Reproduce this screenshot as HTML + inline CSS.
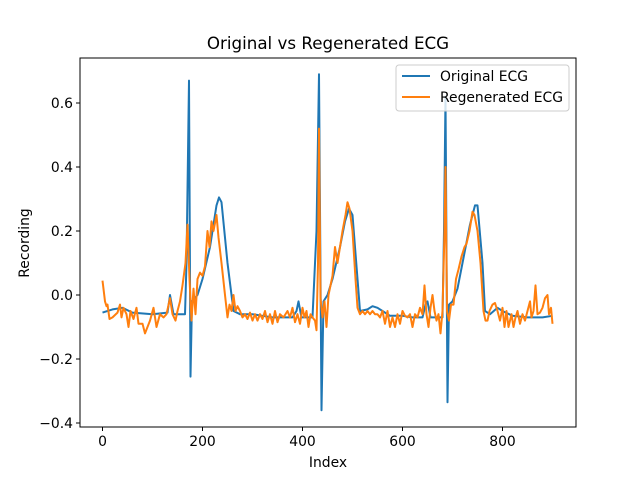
<!DOCTYPE html>
<html><head><meta charset="utf-8"><style>
body{margin:0;background:#fff;}
svg{display:block;font-family:"DejaVu Sans","Liberation Sans",sans-serif;}
</style></head><body>
<svg id="chart" width="640" height="480">
<rect width="640" height="480" fill="#fff"/>
<text x="328" y="49" font-size="16.7" text-anchor="middle">Original vs Regenerated ECG</text>
<g id="plot"></g>
<rect x="80" y="58" width="496" height="369" fill="none" stroke="#000" stroke-width="1"/>
<g id="ticks" font-size="13.9"></g>
<text x="328" y="467" font-size="13.9" text-anchor="middle">Index</text>
<text transform="translate(29,243) rotate(-90)" font-size="13.9" text-anchor="middle">Recording</text>
<g>
<rect x="396" y="65" width="173" height="46" rx="3" fill="#fff" fill-opacity="0.8" stroke="#ccc"/>
<line x1="402" y1="76" x2="430" y2="76" stroke="#1f77b4" stroke-width="2"/>
<text x="440" y="81" font-size="13.9">Original ECG</text>
<line x1="402" y1="97" x2="430" y2="97" stroke="#ff7f0e" stroke-width="2"/>
<text x="440" y="102" font-size="13.9">Regenerated ECG</text>
</g>
</svg>
<script>
const origIdx=[0,20,40,60,100,130,135,142,165,168,173,176,179,190,200,215,228,233,238,250,262,275,300,320,340,360,380,388,392,398,420,428,433,438,442,450,460,475,485,493,500,510,515,530,540,550,560,575,600,620,640,646,650,656,680,683,686,690,693,700,710,720,735,745,750,760,765,775,790,800,820,850,880,900];
const origVal=[-0.055,-0.045,-0.04,-0.055,-0.06,-0.055,0.0,-0.06,-0.06,0.1,0.67,-0.255,-0.02,0.0,0.05,0.15,0.28,0.305,0.29,0.1,-0.05,-0.06,-0.06,-0.065,-0.07,-0.07,-0.07,-0.05,-0.02,-0.07,-0.07,0.2,0.69,-0.36,-0.02,0.0,0.05,0.15,0.23,0.27,0.25,0.05,-0.05,-0.045,-0.035,-0.04,-0.05,-0.065,-0.065,-0.07,-0.07,-0.03,-0.02,-0.07,-0.07,0.2,0.62,-0.335,-0.03,-0.02,0.02,0.1,0.22,0.28,0.28,0.1,-0.05,-0.06,-0.04,-0.05,-0.065,-0.07,-0.07,-0.065];
const regIdx=[0,5,8,10,14,20,30,35,38,42,48,52,56,62,68,72,80,85,90,95,102,108,115,122,128,135,140,146,150,155,160,166,170,174,178,182,186,190,195,200,205,210,214,218,222,228,232,238,245,250,254,258,262,266,270,275,280,285,290,295,300,305,310,315,320,325,330,335,340,345,350,355,362,370,375,380,385,390,395,400,404,408,412,416,420,425,428,431,433,436,440,444,448,452,456,460,465,470,475,480,486,490,494,500,506,510,515,520,525,530,535,540,545,550,555,560,565,570,575,580,585,590,595,600,605,610,615,620,625,630,635,640,644,648,652,656,660,664,668,672,676,680,684,686,689,693,697,702,707,712,718,724,728,734,740,744,750,756,762,766,770,774,780,785,790,795,800,804,808,812,818,822,826,830,835,840,845,850,855,858,862,866,870,875,880,885,890,893,897,900];
const regVal=[0.045,-0.02,-0.035,-0.03,-0.075,-0.07,-0.055,-0.03,-0.07,-0.04,-0.06,-0.1,-0.05,-0.075,-0.04,-0.09,-0.09,-0.12,-0.1,-0.08,-0.04,-0.1,-0.06,-0.07,-0.06,-0.01,-0.06,-0.08,-0.05,-0.02,0.03,0.1,0.22,0.05,-0.08,0.02,-0.06,0.05,0.07,0.06,0.09,0.2,0.15,0.23,0.2,0.25,0.18,0.1,0.0,-0.07,-0.03,-0.05,0.0,-0.05,-0.035,-0.05,-0.07,-0.06,-0.075,-0.055,-0.08,-0.06,-0.08,-0.06,-0.075,-0.05,-0.085,-0.06,-0.09,-0.05,-0.085,-0.06,-0.07,-0.05,-0.07,-0.04,-0.085,-0.06,-0.09,-0.04,-0.07,-0.05,-0.1,-0.06,-0.07,-0.08,-0.11,0.1,0.52,-0.01,-0.07,-0.02,-0.1,0.0,0.03,0.06,0.15,0.1,0.15,0.2,0.25,0.29,0.27,0.2,0.05,-0.04,-0.06,-0.05,-0.06,-0.05,-0.06,-0.05,-0.06,-0.06,-0.07,-0.05,-0.09,-0.05,-0.1,-0.07,-0.1,-0.06,-0.09,-0.05,-0.065,-0.07,-0.06,-0.1,-0.06,-0.07,-0.04,-0.06,0.03,-0.06,-0.1,-0.04,0.0,-0.05,-0.08,-0.06,-0.12,-0.05,0.2,0.4,-0.05,-0.08,-0.03,-0.03,0.05,0.08,0.12,0.15,0.16,0.2,0.26,0.25,0.2,0.1,-0.05,-0.08,-0.08,-0.05,-0.03,-0.025,-0.05,-0.08,-0.04,-0.1,-0.05,-0.1,-0.06,-0.1,-0.07,-0.05,-0.09,-0.06,-0.08,-0.05,-0.02,-0.07,-0.05,0.03,-0.06,-0.055,-0.04,-0.01,0.0,-0.06,-0.04,-0.09];
const xTicks=[0,200,400,600,800];
const yTicks=[-0.4,-0.2,0.0,0.2,0.4,0.6];
const yTickLabels=["−0.4","−0.2","0.0","0.2","0.4","0.6"];
const NS="http://www.w3.org/2000/svg";
function sx(i){return 102.5+i*0.5;}
function sy(v){return 295-v*320;}
const plot=document.getElementById('plot');
function drawLine(idx,val,color,name){
  const p=document.createElementNS(NS,'path');
  p.setAttribute('d',idx.map((x,k)=>(k?'L':'M')+sx(x).toFixed(1)+','+sy(val[k]).toFixed(1)).join(''));
  p.setAttribute('fill','none');p.setAttribute('stroke',color);p.setAttribute('stroke-width','2');p.setAttribute('stroke-linejoin','round');
  
  
  plot.appendChild(p);
}
drawLine(origIdx,origVal,'#1f77b4','original-ecg-line');
drawLine(regIdx,regVal,'#ff7f0e','regenerated-ecg-line');
const tg=document.getElementById('ticks');
xTicks.forEach(t=>{
  const l=document.createElementNS(NS,'line');
  l.setAttribute('x1',sx(t));l.setAttribute('x2',sx(t));l.setAttribute('y1',427);l.setAttribute('y2',431);l.setAttribute('stroke','#000');
  
  
  tg.appendChild(l);
  const tx=document.createElementNS(NS,'text');
  tx.setAttribute('x',sx(t));tx.setAttribute('y',446);tx.setAttribute('text-anchor','middle');tx.textContent=t;
  
  
  tg.appendChild(tx);
});
yTicks.forEach((t,k)=>{
  const l=document.createElementNS(NS,'line');
  l.setAttribute('x1',76);l.setAttribute('x2',80);l.setAttribute('y1',sy(t));l.setAttribute('y2',sy(t));l.setAttribute('stroke','#000');
  
  
  tg.appendChild(l);
  const tx=document.createElementNS(NS,'text');
  tx.setAttribute('x',73);tx.setAttribute('y',sy(t)+5);tx.setAttribute('text-anchor','end');tx.textContent=yTickLabels[k];
  
  
  tg.appendChild(tx);
});
</script>
</body></html>
